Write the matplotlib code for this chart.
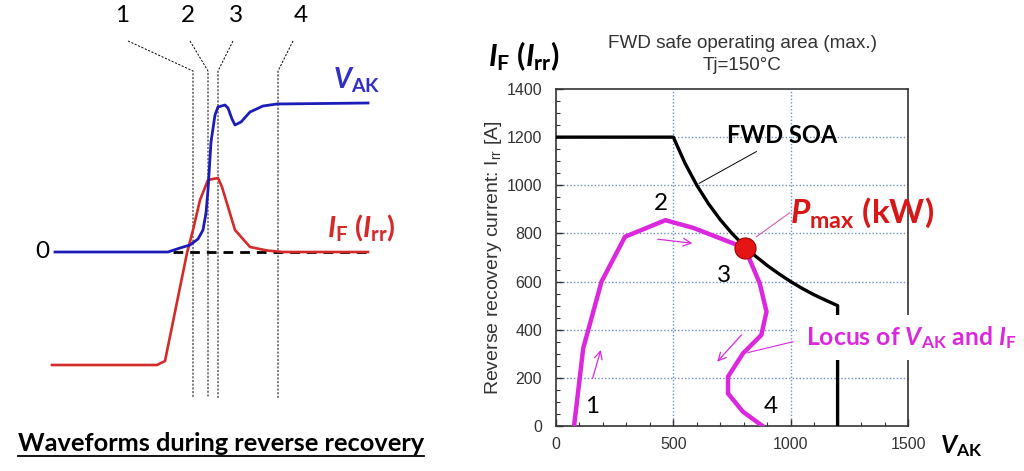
import matplotlib
matplotlib.use("Agg")
import matplotlib.pyplot as plt
from matplotlib.lines import Line2D

plt.rcParams['mathtext.fontset'] = 'custom'
plt.rcParams['mathtext.rm'] = 'Lato:bold'
plt.rcParams['mathtext.it'] = 'Lato:bold:italic'
plt.rcParams['mathtext.bf'] = 'Lato:bold'
plt.rcParams['mathtext.sf'] = 'Liberation Sans'

# ---------------- data: left schematic waveforms (arbitrary units) ----------------
t_vak = [55, 168, 180, 190, 198, 203, 206, 208, 211, 215, 218, 225, 228, 232, 235, 241, 250, 263, 277, 368]
v_vak = [0, 0, 4, 7, 13, 22, 39, 62, 110, 137, 145, 147, 144, 133, 127, 130, 140, 146, 148, 149]
t_if = [52, 157, 165, 187, 193, 200, 204, 208, 218, 222, 235, 250, 267, 283, 368]
v_if = [-113, -113, -109, -1, 22, 52, 62, 72, 74, 65, 22, 5, 1.5, 0, 0]
zero_line_t = [173, 370]
phase_labels = ["1", "2", "3", "4"]
phase_label_t = [122, 188, 236, 301]
phase_top_t = [128, 190, 233, 293]
phase_t = [193, 208, 218, 278]
phase_top_v, phase_knee_v, phase_bottom_v = 211, 181, -146

# ---------------- data: right SOA chart ----------------
soa_v = [0, 500, 550, 600, 650, 700, 750, 800, 850, 900, 950, 1000, 1050, 1100, 1150, 1200, 1200]
soa_i = [1200, 1200, 1091, 1000, 923, 857, 800, 750, 706, 667, 632, 600, 571, 545, 522, 500, 0]
locus_v = [77, 116, 194, 294, 466, 585, 804, 826, 868, 897, 875, 797, 733, 733, 797, 880]
locus_i = [0, 323, 600, 786, 855, 823, 740, 690, 593, 475, 378, 302, 205, 135, 59, 0]
pmax_v, pmax_i = 804, 740
arrows_start = [(156, 198), (434, 776), (790, 378)]
arrows_end = [(191, 316), (581, 759), (687, 267)]
locus_digits = ["1", "2", "3", "4"]
locus_digit_v = [153, 448, 714, 917]
locus_digit_i = [80, 926, 627, 80]
x_ticks = [0, 500, 1000, 1500]
y_ticks = [0, 200, 400, 600, 800, 1000, 1200, 1400]

BLUE = '#1c1cb8'
RED = '#d42a2a'
MAG = '#dc28dc'
PRED = '#d81818'

fig = plt.figure(figsize=(10.24, 4.71), dpi=100)

# ================= left panel =================
ax0 = fig.add_axes([0, 0, 420 / 1024, 1])
ax0.set_xlim(0, 420)
ax0.set_ylim(-219, 252)
ax0.axis('off')

ax0.plot(zero_line_t, [0, 0], color='black', lw=2.0, dashes=(3.5, 2.5), zorder=1)
ax0.plot(t_vak, v_vak, color=BLUE, lw=2.0, zorder=3)
ax0.plot(t_if, v_if, color=RED, lw=1.9, zorder=2)
for lab, lt, tt, pt in zip(phase_labels, phase_label_t, phase_top_t, phase_t):
    ax0.plot([tt, pt, pt], [phase_top_v, phase_knee_v, phase_bottom_v],
             color='black', lw=0.7, dashes=(2.2, 1.6), zorder=0)
    ax0.text(lt, 237, lab, fontsize=17.5, family='Lato', ha='center', va='center')
ax0.text(42, 0, "0", fontsize=17.5, family='Lato', ha='center', va='center')
ax0.text(333, 172, r"$\mathit{V}_{\mathrm{AK}}$", fontsize=20, color='#3030c8',
         ha='left', va='center')
ax0.text(327, 24, r"$\mathit{I}_{\mathrm{F}}$ ($\mathit{I}_{\mathrm{rr}}$)", fontsize=21,
         color=RED, family='Lato', weight='bold', ha='left', va='center')
wt = ax0.text(18, -199, "Waveforms during reverse recovery", fontsize=18.3,
              family='Lato', weight='bold', ha='left', va='baseline')

# ================= right panel =================
ax1 = fig.add_axes([556 / 1024, 45 / 471, 352 / 1024, 337 / 471])
ax1.set_xlim(0, 1500)
ax1.set_ylim(0, 1400)
ax1.set_xticks(x_ticks)
ax1.set_yticks(y_ticks)
ax1.set_xticks(range(0, 1501, 100), minor=True)
ax1.set_yticks(range(0, 1401, 50), minor=True)
ax1.tick_params(which='both', direction='in', top=False, right=False, colors='#333333',
                labelsize=11.5, labelfontfamily='Liberation Sans')
ax1.tick_params(which='major', length=5, width=1)
ax1.tick_params(which='minor', length=3, width=0.8)
ax1.tick_params(axis='y', pad=10)
ax1.tick_params(axis='x', pad=8)
for s in ax1.spines.values():
    s.set_color('#333333')
    s.set_linewidth(1.2)
for gx in [500, 1000]:
    ax1.axvline(gx, color='#6f8fbf', lw=1.0, ls=(0, (1, 1.5)), zorder=0)
for gy in [200, 400, 600, 800, 1000, 1200]:
    ax1.axhline(gy, color='#6f8fbf', lw=1.0, ls=(0, (1, 1.5)), zorder=0)

ax1.plot(soa_v, soa_i, color='black', lw=2.4, zorder=3)
ax1.plot(locus_v, locus_i, color=MAG, lw=3.2, zorder=4, solid_joinstyle='miter')
ax1.scatter([pmax_v], [pmax_i], s=230, color='#e51515', edgecolor='#a00000',
            linewidth=0.8, zorder=6)
for (x0, y0), (x1, y1) in zip(arrows_start, arrows_end):
    ax1.annotate('', xy=(x1, y1), xytext=(x0, y0),
                 arrowprops=dict(arrowstyle='->', color=MAG, lw=0.9,
                                 mutation_scale=14, shrinkA=0, shrinkB=0))
for lab, dv, di in zip(locus_digits, locus_digit_v, locus_digit_i):
    ax1.text(dv, di, lab, fontsize=17.5, family='Lato', ha='center', va='center', zorder=5)

# leader lines
ax1.plot([854, 610], [1140, 1008], color='black', lw=0.7, zorder=3)
ax1.plot([996, 854], [886, 786], color='#d060b0', lw=0.8, zorder=3)
ax1.plot([1010, 818], [350, 305], color=MAG, lw=0.8, zorder=3)

ax1.text(964, 1207, "FWD SOA", fontsize=17, family='Lato', weight='bold',
         ha='center', va='center', zorder=5)
ax1.text(996, 843, r"$\mathit{P}_{\mathrm{max}}$ (kW)", fontsize=24, family='Lato',
         weight='bold', color=PRED, ha='left', va='baseline', zorder=5, clip_on=False)
ax1.text(1064, 336, r"Locus of $\mathit{V}_{\mathrm{AK}}$ and $\mathit{I}_{\mathrm{F}}$",
         fontsize=17.8, family='Lato', weight='bold', color=MAG, ha='left', va='baseline',
         zorder=7, clip_on=False,
         bbox=dict(boxstyle='square,pad=0.35', fc='white', ec='none'))

ax1.set_ylabel(r"Reverse recovery current: $\mathsf{I}_{\mathsf{rr}}$ [A]",
               family='Liberation Sans', fontsize=14, color='#333333', labelpad=2)

fig.text(742 / 1024, 1 - 43 / 471, "FWD safe operating area (max.)", fontsize=13.6,
         family='Liberation Sans', color='#333333', ha='center', va='center')
fig.text(742 / 1024, 1 - 66 / 471, "Tj=150°C", fontsize=13.6,
         family='Liberation Sans', color='#333333', ha='center', va='center')
fig.text(488 / 1024, 1 - 56 / 471, r"$\mathit{I}_{\mathrm{F}}$ ($\mathit{I}_{\mathrm{rr}}$)",
         fontsize=22, family='Lato', weight='bold', ha='left', va='center')
fig.text(940 / 1024, 1 - 446 / 471, r"$\mathit{V}_{\mathrm{AK}}$", fontsize=18,
         ha='left', va='center')

# underline for the left caption
fig.canvas.draw()
bb = wt.get_window_extent()
yl = bb.y0 - 1
fig.add_artist(Line2D([bb.x0 / fig.bbox.width, bb.x1 / fig.bbox.width],
                      [yl / fig.bbox.height, yl / fig.bbox.height],
                      transform=fig.transFigure, color='black', lw=1.3))

fig.savefig("out.png", dpi=100)
